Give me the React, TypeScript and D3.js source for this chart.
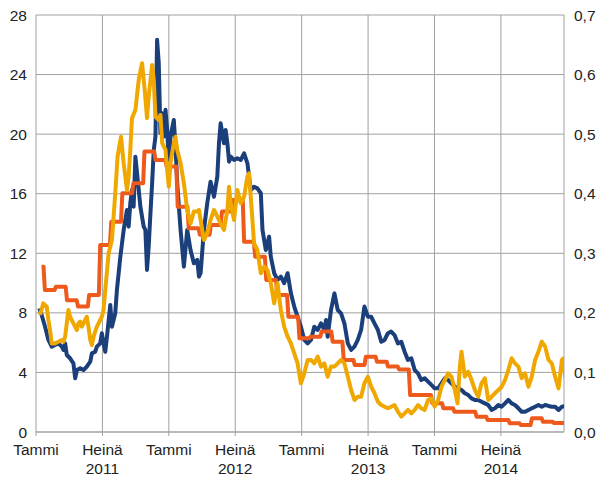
import React from "react";
import * as d3 from "d3";

// months since Jan 2011, value (left axis units)
const blueSeries: [number, number][] = [
  [0.3, 8.3], [0.51, 7.86], [0.82, 7.07], [1.12, 6.18], [1.42, 5.73], [1.72, 5.84], [2.02, 5.95], [2.33, 5.73], [2.48, 5.51], [2.63, 5.95], [2.78, 5.17], [3.08, 4.95], [3.38, 4.61], [3.54, 3.6], [3.69, 4.16], [3.99, 4.28], [4.29, 4.16], [4.59, 4.39], [4.9, 4.72], [5.05, 5.28], [5.35, 5.39], [5.5, 5.73], [5.8, 5.95], [5.95, 6.63], [6.1, 5.95], [6.26, 5.39], [6.41, 6.4], [6.71, 8.53], [6.86, 7.07], [7.16, 7.97], [7.31, 9.54], [7.62, 11.77], [7.92, 13.57], [8.22, 14.91], [8.37, 13.79], [8.52, 15.36], [8.67, 16.25], [8.82, 15.13], [8.98, 18.49], [9.13, 17.37], [9.43, 15.13], [9.73, 13.79], [9.88, 13.57], [10.03, 10.88], [10.18, 12.45], [10.34, 14.69], [10.49, 16.7], [10.64, 18.94], [10.79, 19.83], [10.94, 26.33], [11.09, 24.76], [11.24, 20.06], [11.4, 21.4], [11.55, 19.83], [11.7, 21.63], [11.85, 20.28], [12.0, 18.05], [12.15, 19.83], [12.45, 20.95], [12.6, 19.16], [12.76, 16.7], [13.06, 13.57], [13.36, 11.1], [13.66, 13.57], [13.96, 12.22], [14.26, 11.33], [14.57, 11.55], [14.72, 10.43],
  [14.87, 10.66], [15.17, 13.57], [15.47, 15.36], [15.77, 16.81], [16.08, 15.8], [16.38, 17.15], [16.53, 19.39], [16.68, 20.73], [16.83, 20.06], [16.98, 19.39], [17.13, 20.28], [17.29, 19.39], [17.44, 18.15], [17.59, 18.49], [17.89, 18.27], [18.19, 18.38], [18.5, 18.27], [18.8, 18.71], [19.1, 18.04], [19.4, 16.25], [19.7, 16.47], [20.0, 16.36], [20.31, 16.03], [20.46, 13.57], [20.76, 12.22], [21.06, 13.12], [21.21, 11.77], [21.52, 10.66], [21.82, 10.21], [22.12, 10.43], [22.42, 9.99], [22.73, 10.66], [23.03, 9.31], [23.33, 8.42], [23.63, 7.74], [23.93, 7.07], [24.24, 6.18], [24.54, 5.95], [24.84, 6.18], [25.14, 7.07], [25.45, 6.85], [25.75, 7.3], [26.05, 6.85], [26.2, 7.52], [26.35, 6.4], [26.65, 8.19], [26.96, 9.31], [27.26, 8.19], [27.56, 7.97], [27.86, 7.3], [28.17, 5.95], [28.47, 5.51], [28.77, 5.73], [29.07, 6.18], [29.37, 6.85], [29.67, 8.42], [29.98, 7.74],
  [30.28, 7.74], [30.58, 7.3], [30.89, 6.85], [31.19, 6.06], [31.49, 6.18], [31.79, 6.63], [32.09, 6.74], [32.39, 6.51], [32.7, 5.95], [33.0, 6.06], [33.3, 5.39], [33.6, 4.84], [33.91, 4.95], [34.21, 4.16], [34.51, 3.94], [34.81, 3.49], [35.11, 3.61], [35.42, 3.38], [35.72, 3.16], [36.02, 2.93], [36.33, 2.93], [36.63, 3.27], [36.93, 3.61], [37.23, 3.49], [37.53, 3.27], [37.84, 3.04], [38.14, 2.93], [38.44, 2.82], [38.74, 2.6], [39.05, 2.48], [39.35, 2.26], [39.65, 2.15], [39.95, 2.15], [40.25, 2.03], [40.55, 1.92], [40.86, 1.81], [41.16, 1.48], [41.46, 1.59], [41.77, 1.81], [42.07, 1.7], [42.37, 1.92], [42.67, 2.15], [42.97, 1.92], [43.27, 1.81], [43.58, 1.59], [43.88, 1.36], [44.18, 1.36], [44.49, 1.48], [44.79, 1.59], [45.09, 1.7], [45.39, 1.81], [45.69, 1.7], [46.0, 1.81], [46.3, 1.75], [46.6, 1.7], [46.9, 1.7], [47.21, 1.48], [47.51, 1.7], [47.81, 1.75],
];

const yellowSeries: [number, number][] = [
  [0.36, 7.86], [0.66, 8.64], [0.97, 8.42], [1.12, 7.52], [1.27, 6.85], [1.42, 5.95], [1.72, 5.95], [2.02, 6.06], [2.33, 6.18], [2.48, 6.06], [2.63, 6.4], [2.78, 7.3], [2.93, 8.19], [3.08, 7.74], [3.38, 7.3], [3.69, 6.85], [3.84, 7.3], [3.99, 7.41], [4.14, 7.07], [4.29, 7.3], [4.44, 7.52], [4.59, 7.74], [4.74, 7.07], [4.9, 6.18], [5.05, 5.84], [5.2, 6.4], [5.5, 7.07], [5.8, 7.52], [5.95, 7.74], [6.1, 8.19], [6.26, 9.54], [6.56, 12.0], [6.86, 12.89], [7.16, 16.03], [7.37, 18.49], [7.68, 19.83], [7.92, 18.05], [8.22, 16.25], [8.37, 17.15], [8.52, 18.94], [8.67, 21.07], [8.98, 21.63], [9.28, 23.64], [9.58, 24.76], [9.82, 22.97], [10.03, 21.07], [10.18, 22.52], [10.49, 24.65], [10.64, 23.64], [10.79, 21.18], [11.09, 20.95], [11.24, 21.29], [11.4, 19.39], [11.55, 19.16], [11.7, 18.94], [11.85, 17.6], [12.0, 16.47], [12.15, 18.05], [12.45, 19.39], [12.6, 19.83], [12.76, 18.94], [13.06, 18.05], [13.36, 16.7], [13.66, 14.91], [13.96, 14.01], [14.26, 14.8], [14.57, 14.8], [14.72, 14.91],
  [14.87, 14.24], [15.17, 12.89], [15.47, 13.34], [15.77, 14.24], [16.08, 14.91], [16.38, 14.46], [16.68, 14.01], [16.98, 13.57], [17.29, 14.91], [17.44, 16.47], [17.59, 15.36], [17.89, 14.24], [18.19, 16.25], [18.5, 15.36], [18.8, 15.8], [19.1, 17.15], [19.25, 17.37], [19.4, 15.8], [19.7, 12.67], [20.0, 12.22], [20.31, 10.66], [20.61, 11.1], [20.91, 10.88], [21.21, 9.99], [21.52, 8.64], [21.82, 9.99], [22.12, 8.19], [22.42, 7.07], [22.73, 6.4], [23.03, 5.95], [23.33, 5.28], [23.63, 4.61], [23.93, 3.27], [24.24, 3.94], [24.54, 4.84], [24.84, 4.84], [25.14, 4.61], [25.45, 5.06], [25.75, 4.39], [26.05, 4.61], [26.35, 3.71], [26.65, 4.39], [26.96, 4.39], [27.26, 4.61], [27.56, 4.84], [27.86, 4.61], [28.17, 3.71], [28.47, 2.82], [28.77, 2.15], [29.07, 2.37], [29.37, 2.37], [29.67, 3.27], [29.98, 3.71], [30.28, 3.04],
  [30.58, 2.6], [30.89, 2.03], [31.19, 1.81], [31.49, 1.7], [31.79, 1.59], [32.09, 1.7], [32.39, 1.81], [32.7, 1.36], [33.0, 1.03], [33.3, 1.25], [33.6, 1.48], [33.91, 1.25], [34.21, 1.48], [34.51, 1.81], [34.81, 1.59], [35.11, 1.48], [35.42, 2.15], [35.72, 2.26], [36.02, 1.7], [36.33, 2.15], [36.63, 3.04], [36.93, 3.49], [37.23, 3.94], [37.53, 3.71], [37.84, 2.82], [38.08, 1.93], [38.29, 4.39], [38.44, 5.39], [38.74, 3.71], [39.05, 4.05], [39.35, 3.49], [39.65, 2.82], [39.95, 2.37], [40.25, 3.27], [40.55, 3.61], [40.86, 2.15], [41.16, 2.37], [41.46, 2.6], [41.77, 2.82], [42.07, 3.04], [42.37, 3.49], [42.67, 4.16], [42.97, 4.95], [43.27, 4.61], [43.58, 4.39], [43.88, 3.61], [44.18, 3.94], [44.49, 3.04], [44.79, 3.71], [45.09, 4.84], [45.39, 5.39], [45.69, 6.06], [46.0, 5.73], [46.3, 4.84], [46.6, 4.61], [46.9, 3.71], [47.21, 2.93], [47.51, 4.84], [47.66, 4.95], [47.81, 3.61],
];

// monthly values, Jan 2011 .. Dec 2014 (left axis units)
const redMonthly: number[] = [
  11.1, 9.54, 9.76, 8.84, 8.42, 9.2, 12.56, 14.12, 16.03, 16.7, 18.83, 18.27,
  17.82, 15.13, 13.68, 13.25, 13.9, 14.8, 15.58, 12.78, 11.77, 10.21, 9.2, 7.74,
  6.29, 6.4, 6.74, 6.06, 4.84, 4.5, 5.06, 4.72, 4.39, 4.2, 2.48, 2.48,
  1.93, 1.59, 1.36, 1.36, 1.03, 0.81, 0.81, 0.58, 0.47, 0.92, 0.69, 0.6,
];

const leftTicks = [0, 4, 8, 12, 16, 20, 24, 28];
const rightTicks = [0, 0.1, 0.2, 0.3, 0.4, 0.5, 0.6, 0.7];
const xTickMonths = [0, 6, 12, 18, 24, 30, 36, 42];
const xTickLabels = ["Tammi", "Heinä", "Tammi", "Heinä", "Tammi", "Heinä", "Tammi", "Heinä"];
const yearLabels = ["2011", "2012", "2013", "2014"];
const yearMonths = [6, 18, 30, 42];

const COLORS = { blue: "#1a3f7a", yellow: "#f0a800", red: "#ee5a1c" };

export default function App() {
  const W = 600, H = 478;
  const x0 = 36, x1 = 564, yTop = 15, yBot = 432;
  const x = d3.scaleLinear().domain([0, 47.7]).range([x0, x1]);
  const yL = d3.scaleLinear().domain([0, 28]).range([yBot, yTop]);
  const yR = d3.scaleLinear().domain([0, 0.7]).range([yBot, yTop]);
  const line = d3.line<[number, number]>().x((d) => x(d[0])).y((d) => yL(d[1]));

  const redPts: [number, number][] = [[0.5, redMonthly[0]]];
  for (let k = 0; k < redMonthly.length - 1; k++) {
    redPts.push([k + 0.68, redMonthly[k]]);
    redPts.push([k + 0.8, redMonthly[k + 1]]);
  }
  redPts.push([47.8, redMonthly[redMonthly.length - 1]]);

  const font = "'Liberation Sans', Arial, sans-serif";
  const fmtR = (v: number) => d3.format(".1f")(v).replace(".", ",");

  return (
    <svg width={W} height={H} style={{ position: "absolute", left: 0, top: 0, background: "#fff" }}>
      <defs>
        <clipPath id="plot">
          <rect x={x0} y={yTop - 5} width={x1 - x0} height={yBot - yTop + 5} />
        </clipPath>
      </defs>
      {leftTicks.map((t) => (
        <line key={"h" + t} x1={x0} x2={x1} y1={yL(t)} y2={yL(t)} stroke={t === 0 ? "#b8b8b8" : "#a0a0a0"} strokeWidth={t === 0 ? 2 : 1} />
      ))}
      {xTickMonths.map((m) => (
        <line key={"v" + m} x1={x(m)} x2={x(m)} y1={yTop} y2={yBot + 4} stroke="#a0a0a0" strokeWidth={1} />
      ))}
      <line x1={x1} x2={x1} y1={yTop} y2={yBot} stroke="#a0a0a0" strokeWidth={1} />

      <g clipPath="url(#plot)" fill="none" strokeLinejoin="round" strokeLinecap="butt">
        <path d={line(blueSeries) || ""} stroke={COLORS.blue} strokeWidth={4} />
        <path d={line(redPts) || ""} stroke={COLORS.red} strokeWidth={4} />
        <path d={line(yellowSeries) || ""} stroke={COLORS.yellow} strokeWidth={4} />
      </g>

      <g fontFamily={font} fontSize={15.5} fill="#222">
        {leftTicks.map((t) => (
          <text key={"l" + t} x={27} y={yL(t) + 5.5} textAnchor="end">{t}</text>
        ))}
        {rightTicks.map((t) => (
          <text key={"r" + t} x={574} y={yR(t) + 5.5} textAnchor="start">{fmtR(t)}</text>
        ))}
        {xTickMonths.map((m, i) => (
          <text key={"x" + m} x={x(m)} y={455} textAnchor="middle">{xTickLabels[i]}</text>
        ))}
        {yearMonths.map((m, i) => (
          <text key={"y" + m} x={x(m)} y={474} textAnchor="middle">{yearLabels[i]}</text>
        ))}
      </g>
    </svg>
  );
}
